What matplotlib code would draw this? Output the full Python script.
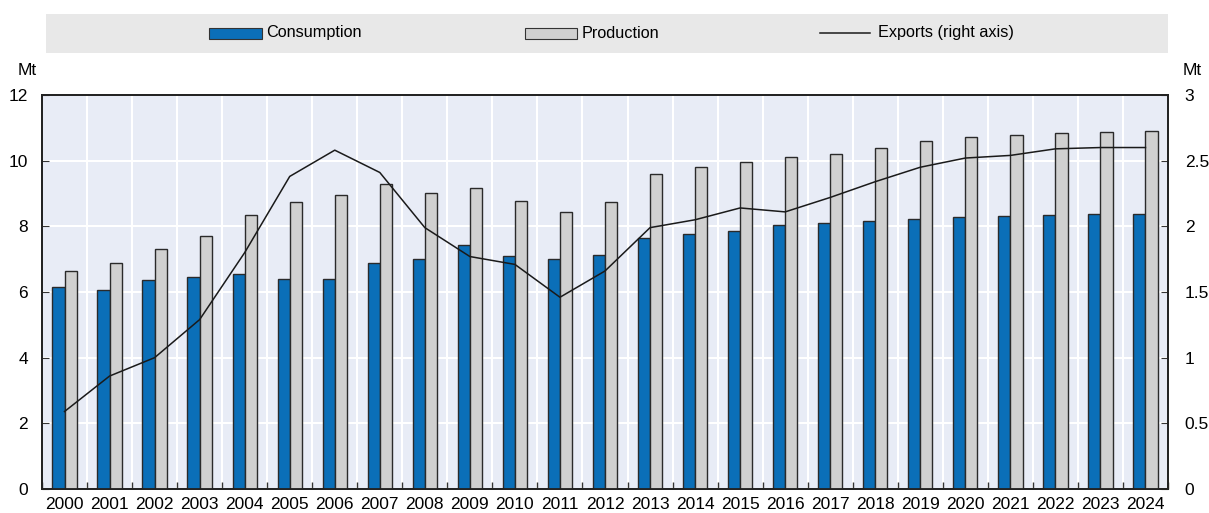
import numpy as np
import matplotlib.pyplot as plt
from matplotlib.patches import Rectangle
from matplotlib.lines import Line2D

plt.rcParams['font.family'] = ['Liberation Sans Narrow', 'Liberation Sans', 'DejaVu Sans']

years = [str(y) for y in range(2000, 2025)]
consumption = [6.15, 6.06, 6.37, 6.46, 6.55, 6.40, 6.40, 6.88, 7.00, 7.43, 7.10, 7.00, 7.13,
               7.65, 7.77, 7.86, 8.04, 8.10, 8.16, 8.22, 8.28, 8.31, 8.35, 8.38, 8.38]
production = [6.64, 6.88, 7.31, 7.70, 8.35, 8.74, 8.95, 9.29, 9.02, 9.17, 8.77, 8.44, 8.74,
              9.59, 9.81, 9.96, 10.11, 10.20, 10.39, 10.60, 10.72, 10.78, 10.84, 10.87, 10.90]
exports = [0.59, 0.86, 1.00, 1.29, 1.80, 2.38, 2.58, 2.41, 1.99, 1.77, 1.71, 1.46, 1.66,
           1.99, 2.05, 2.14, 2.11, 2.22, 2.34, 2.45, 2.52, 2.54, 2.59, 2.60, 2.60]

blue = '#0B6FB8'
grey = '#D0D0D0'
bg = '#E8ECF6'
W, H = 1209, 513

fig = plt.figure(figsize=(W / 100, H / 100), dpi=100)
ax = fig.add_axes([42 / W, (H - 489) / H, (1168 - 42) / W, (489 - 95) / H])
ax.set_facecolor(bg)
x = np.arange(len(years))
bw = 0.27

ax.bar(x - bw / 2, consumption, bw, color=blue, edgecolor='#2a2a2a', linewidth=1.0, zorder=3)
ax.bar(x + bw / 2, production, bw, color=grey, edgecolor='#2a2a2a', linewidth=1.0, zorder=3)

ax.set_xlim(-0.5, len(years) - 0.5)
ax.set_ylim(0, 12)
ax.set_yticks(range(0, 13, 2))
ax.set_xticks(x)
ax.set_xticklabels(years)
ax.set_xticks(np.arange(-0.5, len(years), 1), minor=True)
ax.tick_params(axis='x', which='major', length=0, labelsize=12.5, pad=6)
ax.tick_params(axis='x', which='minor', length=5, direction='in', width=1, color='#333333')
ax.tick_params(axis='y', direction='in', length=5, labelsize=12.5, pad=10, color='#333333')
ax.grid(axis='y', color='white', linewidth=1.5, zorder=1)
ax.grid(axis='x', which='minor', color='white', linewidth=1.5, zorder=1)
ax.set_axisbelow(True)
for s in ax.spines.values():
    s.set_color('#222222')
    s.set_linewidth(1.3)

ax2 = ax.twinx()
ax2.plot(x, exports, color='#1a1a1a', linewidth=1.1, zorder=4)
ax2.set_ylim(0, 3)
ax2.set_yticks([0, 0.5, 1, 1.5, 2, 2.5, 3])
ax2.set_yticklabels(['0', '0.5', '1', '1.5', '2', '2.5', '3'])
ax2.tick_params(axis='y', direction='in', length=5, labelsize=12.5, pad=12, color='#333333')
for s in ax2.spines.values():
    s.set_color('#222222')
    s.set_linewidth(1.3)

fig.text(27 / W, 1 - 71 / H, 'Mt', fontsize=12.5, ha='center', va='center')
fig.text(1192 / W, 1 - 71 / H, 'Mt', fontsize=12.5, ha='center', va='center')

# legend strip
fig.add_artist(Rectangle((46 / W, 1 - 53 / H), (1168 - 46) / W, 39 / H,
                         transform=fig.transFigure, facecolor='#E8E8E8', edgecolor='none'))
fig.add_artist(Rectangle((209 / W, 1 - 39 / H), 53 / W, 11 / H, transform=fig.transFigure,
                         facecolor=blue, edgecolor='#333333', linewidth=0.8))
fig.text(266 / W, 1 - 33 / H, 'Consumption', fontsize=11.7, va='center')
fig.add_artist(Rectangle((525 / W, 1 - 39 / H), 52 / W, 11 / H, transform=fig.transFigure,
                         facecolor=grey, edgecolor='#333333', linewidth=0.8))
fig.text(582 / W, 1 - 33 / H, 'Production', fontsize=11.7, va='center')
fig.add_artist(Line2D([820 / W, 870 / W], [1 - 33 / H, 1 - 33 / H], transform=fig.transFigure,
                      color='#1a1a1a', linewidth=1.1))
fig.text(878 / W, 1 - 33 / H, 'Exports (right axis)', fontsize=11.7, va='center')

fig.savefig('out.png', dpi=100)
